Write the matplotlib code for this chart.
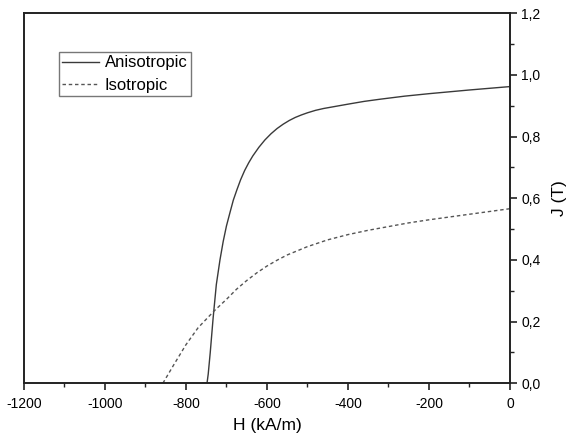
import numpy as np
import matplotlib
matplotlib.use("Agg")
import matplotlib.pyplot as plt
from matplotlib.ticker import MultipleLocator, FuncFormatter

plt.rcParams['font.family'] = ['Liberation Sans', 'DejaVu Sans']
plt.rcParams['axes.unicode_minus'] = False

# demagnetisation curves
h_aniso = [-758, -748, -745, -740, -733, -725, -716, -708, -700, -691, -683, -674,
           -665, -655, -645, -635, -620, -605, -590, -575, -560, -545, -530, -515,
           -500, -480, -460, -430, -400, -360, -321, -260, -200, -100, 0]
j_aniso = [0.0, 0.0, 0.03, 0.10, 0.21, 0.32, 0.40, 0.46, 0.51, 0.555, 0.594, 0.628,
           0.66, 0.69, 0.715, 0.737, 0.765, 0.789, 0.809, 0.826, 0.840, 0.852, 0.862, 0.870,
           0.877, 0.885, 0.891, 0.898, 0.905, 0.914, 0.921, 0.931, 0.939, 0.951, 0.962]

h_iso = [-857, -830, -800, -770, -730, -700, -675, -650, -625, -600, -575, -550,
         -500, -450, -400, -350, -300, -250, -200, -150, -100, -50, 0]
j_iso = [0.0, 0.06, 0.125, 0.18, 0.235, 0.272, 0.305, 0.333, 0.358, 0.38, 0.399, 0.416,
         0.443, 0.465, 0.482, 0.496, 0.508, 0.52, 0.53, 0.539, 0.548, 0.557, 0.566]

fig = plt.figure(figsize=(5.71, 4.40), dpi=100)
ax = fig.add_axes([0.042, 0.129, 0.851, 0.841])

ax.plot(h_aniso, j_aniso, color='#3a3a3a', lw=1.0, label='Anisotropic')
ax.plot(h_iso, j_iso, color='#555555', lw=1.0, ls=(0, (2.5, 2)), label='Isotropic')

ax.set_xlim(-1200, 0)
ax.set_ylim(0, 1.2)
ax.xaxis.set_major_locator(MultipleLocator(200))
ax.xaxis.set_minor_locator(MultipleLocator(100))
ax.yaxis.set_major_locator(MultipleLocator(0.2))
ax.yaxis.set_minor_locator(MultipleLocator(0.1))
ax.yaxis.set_major_formatter(FuncFormatter(lambda v, p: f"{v:.1f}".replace('.', ',')))

ax.yaxis.tick_right()
ax.yaxis.set_label_position('right')
ax.tick_params(which='major', direction='out', length=5, width=1.2, labelsize=10, color='#222222')
ax.tick_params(which='minor', direction='out', length=3, width=1.0, color='#222222')
ax.tick_params(axis='x', pad=5)
ax.tick_params(axis='y', pad=3)
for s in ax.spines.values():
    s.set_linewidth(1.4)
    s.set_color('#222222')

ax.set_xlabel('H (kA/m)', fontsize=12.5, labelpad=5)
ax.set_ylabel('J (T)', fontsize=12.5, labelpad=8)

leg = ax.legend(loc='upper left', bbox_to_anchor=(0.072, 0.895), fontsize=12,
                frameon=True, fancybox=False, handlelength=2.2, handletextpad=0.35,
                borderpad=0.2, labelspacing=0.45, borderaxespad=0)
leg.get_frame().set_edgecolor('#555555')
leg.get_frame().set_linewidth(1.0)

fig.savefig('out.png', dpi=100)
